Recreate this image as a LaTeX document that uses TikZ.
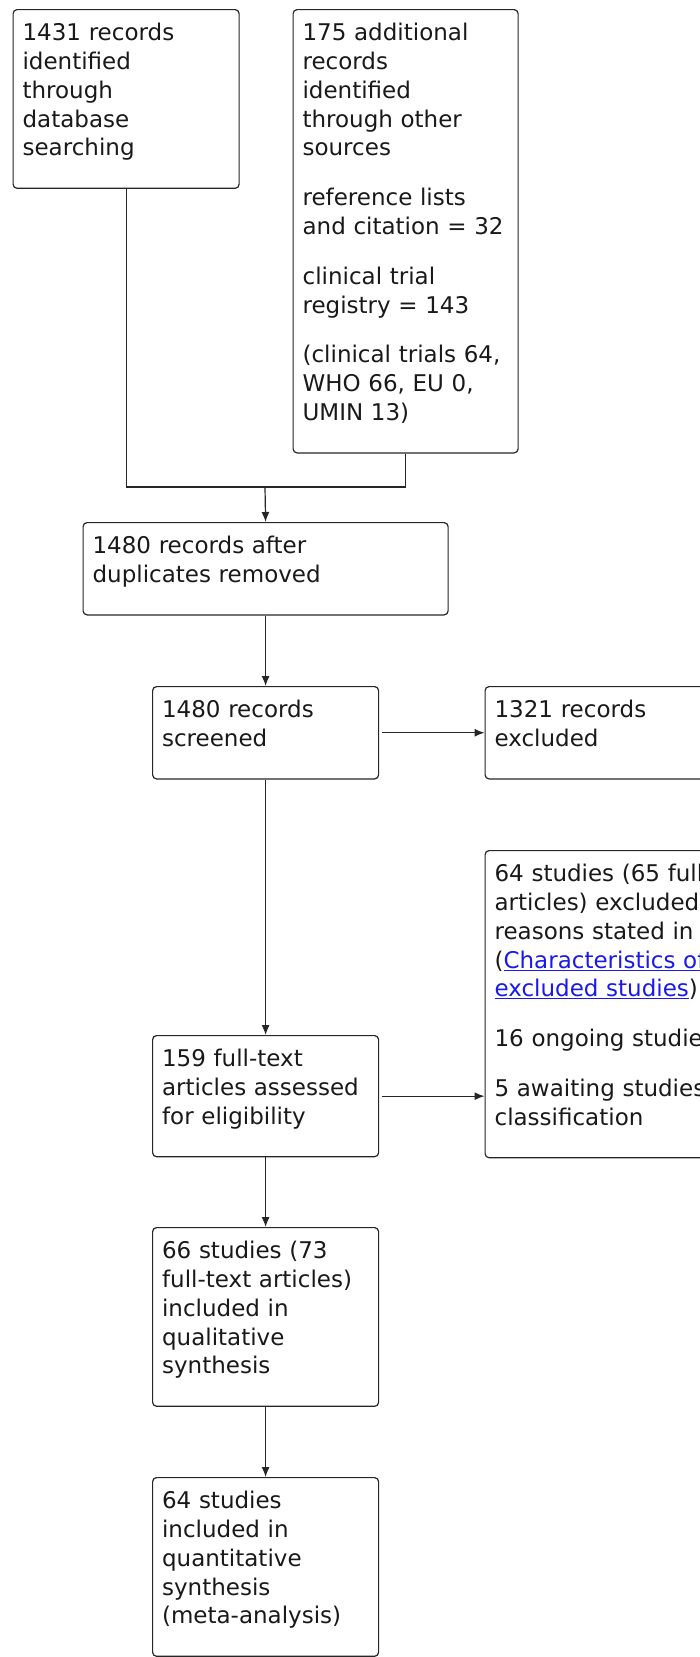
\documentclass[tikz,border=0pt]{standalone}
\usepackage{fontspec}
\setmainfont{DejaVu Sans}
\usepackage{xcolor}
\usepackage{tikz}
\usetikzlibrary{arrows.meta}
\definecolor{linkblue}{RGB}{25,25,235}
\newcommand{\boxfont}{\fontsize{23pt}{28.8pt}\selectfont}
\newcommand{\reflink}[1]{\textcolor{linkblue}{\underline{#1}}}

\tikzset{
  flowbox/.style={draw=black!85, line width=1.2pt, rounded corners=4pt, anchor=north west,
    align=left, inner xsep=9.5pt, inner ysep=0pt, font=\boxfont, text=black!90,
    execute at begin node={\rule{0pt}{31pt}},
    execute at end node={\rule[-32.5pt]{0pt}{0pt}}},
  flowarrow/.style={line width=1.2pt, draw=black!85, -{Latex[length=10pt,width=8pt]}}
}

\begin{document}
\begin{tikzpicture}[x=1pt,y=-1pt]
  \path[use as bounding box, clip] (0,0) rectangle (700,1657);
  % identification
  \node[flowbox, text width=207pt] (dbsearch) at (12.5,9) {1431 records\\ identified\\ through\\ database\\ searching};
  \node[flowbox, text width=206pt] (othersrc) at (292.5,9) {175 additional\\ records\\ identified\\ through other\\ sources\\[21pt] reference lists\\ and citation = 32\\[21pt] clinical trial\\ registry = 143\\[21pt] (clinical trials 64,\\ WHO 66, EU 0,\\ UMIN 13)};
  \coordinate (merge) at (265,487);
  % screening
  \node[flowbox, text width=346pt] (dupremoved) at (82.5,522) {1480 records after\\ duplicates removed};
  \node[flowbox, text width=207pt] (screened) at (152,686) {1480 records\\ screened};
  \node[flowbox, text width=281pt] (recexcl) at (484.5,686) {1321 records\\ excluded};
  % eligibility
  \node[flowbox, text width=281pt] (ftexcl) at (484.5,850) {64 studies (65 full-text\\ articles) excluded, with\\ reasons stated in\\ (\reflink{Characteristics of}\\ \reflink{excluded studies})\\[21pt] 16 ongoing studies\\[21pt] 5 awaiting studies\\ classification};
  \node[flowbox, text width=207pt] (fulltext) at (152,1035) {159 full-text\\ articles assessed\\ for eligibility};
  % included
  \node[flowbox, text width=207pt] (qual) at (152,1227) {66 studies (73\\ full-text articles)\\ included in\\ qualitative\\ synthesis};
  \node[flowbox, text width=207pt] (quant) at (152,1477) {64 studies\\ included in\\ quantitative\\ synthesis\\ (meta-analysis)};

  \draw[line width=1.2pt, draw=black!85] (dbsearch.south) |- (merge) -| (othersrc.south);
  \draw[flowarrow] (merge) -- (dupremoved.north);
  \draw[flowarrow] (dupremoved) -- (screened);
  \draw[flowarrow, shorten <=3pt] (screened.east) -- (recexcl.west);
  \draw[flowarrow] (screened) -- (fulltext);
  \draw[flowarrow, shorten <=3pt] (fulltext.east) -- (fulltext.east -| ftexcl.west);
  \draw[flowarrow] (fulltext) -- (qual);
  \draw[flowarrow] (qual) -- (quant);
\end{tikzpicture}
\end{document}
